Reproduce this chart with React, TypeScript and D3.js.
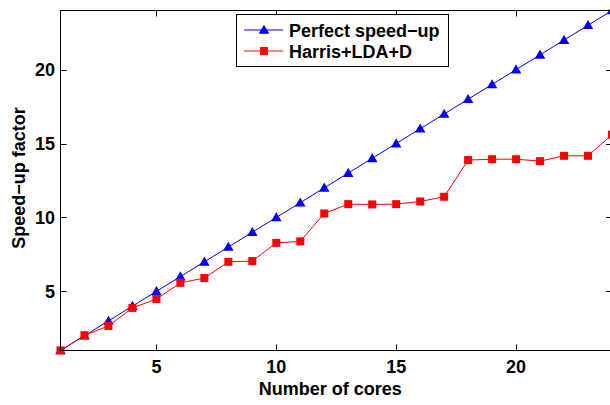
import React from "react";
import * as d3 from "d3";

const cores = [1,2,3,4,5,6,7,8,9,10,11,12,13,14,15,16,17,18,19,20,21,22,23,24];
const perfect = [1,2,3,4,5,6,7,8,9,10,11,12,13,14,15,16,17,18,19,20,21,22,23,24];
const harris = [1.0,2.03,2.66,3.88,4.48,5.58,5.9,7.0,7.05,8.28,8.38,10.27,10.9,10.88,10.9,11.08,11.4,13.88,13.94,13.94,13.81,14.17,14.17,15.6];
const xTicks = [5,10,15,20];
const yTicks = [5,10,15,20];
const legendLabels = ["Perfect speed\u2212up", "Harris+LDA+D"];
const xLabel = "Number of cores";
const yLabel = "Speed\u2212up factor";

const W = 610, H = 405;
const left = 60.5, right = 612, top = 10.5, bottom = 350.5;
const font = "'Liberation Sans', Arial, Helvetica, sans-serif";

export default function App() {
  const x = d3.scaleLinear().domain([1, 24]).range([left, right]);
  const y = d3.scaleLinear().domain([1, 24]).range([bottom, top]);
  const line = d3.line<number>().x((_, i) => x(cores[i])).y(d => y(d));
  const tri = d3.symbol().type(d3.symbolTriangle).size(48)();
  const sq = (cx: number, cy: number, k: string) => (
    <rect key={k} x={cx - 4} y={cy - 4} width={8} height={8} fill="#ff0000" />
  );
  const triM = (cx: number, cy: number, k: string) => (
    <path key={k} d={tri as string} transform={`translate(${cx},${cy + 0.8})`} fill="#0000ff" />
  );
  return (
    <svg width={W} height={H} style={{ position: "absolute", left: 0, top: 0, background: "#fff" }}>
      <rect x={0} y={0} width={W} height={H} fill="#fff" />
      <g fontFamily={font} fontWeight="bold" fontSize={18} fill="#000">
        {/* series */}
        <path d={line(perfect) as string} fill="none" stroke="#0000ff" strokeWidth={1} />
        {perfect.map((v, i) => triM(x(cores[i]), y(v), "p" + i))}
        <path d={line(harris) as string} fill="none" stroke="#ff0000" strokeWidth={1} />
        {harris.map((v, i) => sq(x(cores[i]), y(v), "h" + i))}
        {/* axes box */}
        <rect x={left} y={top} width={right - left} height={bottom - top} fill="none" stroke="#000" strokeWidth={1} />
        {xTicks.map(t => (
          <g key={"x" + t}>
            <line x1={Math.round(x(t)) + 0.5} x2={Math.round(x(t)) + 0.5} y1={bottom} y2={bottom - 6} stroke="#000" />
            <line x1={Math.round(x(t)) + 0.5} x2={Math.round(x(t)) + 0.5} y1={top} y2={top + 6} stroke="#000" />
            <text x={x(t)} y={373} textAnchor="middle">{t}</text>
          </g>
        ))}
        {yTicks.map(t => (
          <g key={"y" + t}>
            <line x1={left} x2={left + 6} y1={Math.round(y(t)) + 0.5} y2={Math.round(y(t)) + 0.5} stroke="#000" />
            <line x1={right} x2={right - 6} y1={Math.round(y(t)) + 0.5} y2={Math.round(y(t)) + 0.5} stroke="#000" />
            <text x={55} y={y(t) + 6.5} textAnchor="end">{t}</text>
          </g>
        ))}
        <text x={(left + 610) / 2 - 5} y={395} textAnchor="middle">{xLabel}</text>
        <text transform={`translate(25,${178}) rotate(-90)`} textAnchor="middle">{yLabel}</text>
        {/* legend */}
        <rect x={236.5} y={14.5} width={212} height={52} fill="#fff" stroke="#000" strokeWidth={1} />
        <line x1={244} x2={283} y1={30} y2={30} stroke="#0000ff" />
        {triM(264, 30, "lt")}
        <text x={289} y={36.5}>{legendLabels[0]}</text>
        <line x1={244} x2={283} y1={51} y2={51} stroke="#ff0000" />
        {sq(264, 51, "ls")}
        <text x={289} y={57.5}>{legendLabels[1]}</text>
      </g>
    </svg>
  );
}
